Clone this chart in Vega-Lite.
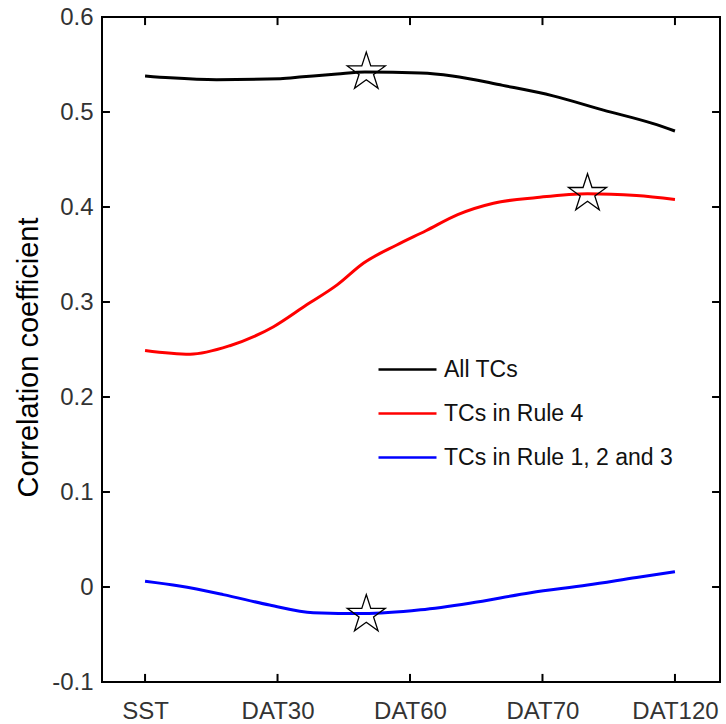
{
  "$schema": "https://vega.github.io/schema/vega-lite/v6.json",
  "width": 618,
  "height": 665,
  "autosize": {"type": "none"},
  "padding": {"left": 102, "top": 17, "right": 6, "bottom": 42},
  "background": "white",
  "config": {
    "view": {"stroke": "black", "strokeWidth": 2},
    "axis": {"grid": false, "domain": false, "ticks": false,
             "labelFont": "Liberation Sans", "labelFontSize": 24, "labelColor": "#333333",
             "titleFont": "Liberation Sans"},
    "legend": {"labelFont": "Liberation Sans", "labelFontSize": 23, "labelColor": "#111111"}
  },
  "datasets": {
    "lines": [
      {"step": 0, "r": 0.538, "group": "All TCs"},
      {"step": 0.19, "r": 0.536, "group": "All TCs"},
      {"step": 0.54, "r": 0.534, "group": "All TCs"},
      {"step": 1.02, "r": 0.535, "group": "All TCs"},
      {"step": 1.19, "r": 0.537, "group": "All TCs"},
      {"step": 1.45, "r": 0.540, "group": "All TCs"},
      {"step": 1.66, "r": 0.542, "group": "All TCs"},
      {"step": 2.08, "r": 0.541, "group": "All TCs"},
      {"step": 2.32, "r": 0.538, "group": "All TCs"},
      {"step": 2.70, "r": 0.528, "group": "All TCs"},
      {"step": 3.08, "r": 0.517, "group": "All TCs"},
      {"step": 3.46, "r": 0.502, "group": "All TCs"},
      {"step": 3.83, "r": 0.488, "group": "All TCs"},
      {"step": 4.0, "r": 0.480, "group": "All TCs"},
      {"step": 0, "r": 0.249, "group": "TCs in Rule 4"},
      {"step": 0.34, "r": 0.245, "group": "TCs in Rule 4"},
      {"step": 0.64, "r": 0.254, "group": "TCs in Rule 4"},
      {"step": 0.97, "r": 0.274, "group": "TCs in Rule 4"},
      {"step": 1.22, "r": 0.297, "group": "TCs in Rule 4"},
      {"step": 1.45, "r": 0.318, "group": "TCs in Rule 4"},
      {"step": 1.65, "r": 0.341, "group": "TCs in Rule 4"},
      {"step": 1.90, "r": 0.360, "group": "TCs in Rule 4"},
      {"step": 2.12, "r": 0.375, "group": "TCs in Rule 4"},
      {"step": 2.36, "r": 0.392, "group": "TCs in Rule 4"},
      {"step": 2.63, "r": 0.404, "group": "TCs in Rule 4"},
      {"step": 2.96, "r": 0.410, "group": "TCs in Rule 4"},
      {"step": 3.34, "r": 0.414, "group": "TCs in Rule 4"},
      {"step": 3.71, "r": 0.412, "group": "TCs in Rule 4"},
      {"step": 4.0, "r": 0.408, "group": "TCs in Rule 4"},
      {"step": 0, "r": 0.006, "group": "TCs in Rule 1, 2 and 3"},
      {"step": 0.26, "r": 0.001, "group": "TCs in Rule 1, 2 and 3"},
      {"step": 0.59, "r": -0.008, "group": "TCs in Rule 1, 2 and 3"},
      {"step": 0.94, "r": -0.019, "group": "TCs in Rule 1, 2 and 3"},
      {"step": 1.27, "r": -0.027, "group": "TCs in Rule 1, 2 and 3"},
      {"step": 1.65, "r": -0.028, "group": "TCs in Rule 1, 2 and 3"},
      {"step": 2.08, "r": -0.024, "group": "TCs in Rule 1, 2 and 3"},
      {"step": 2.45, "r": -0.017, "group": "TCs in Rule 1, 2 and 3"},
      {"step": 2.91, "r": -0.006, "group": "TCs in Rule 1, 2 and 3"},
      {"step": 3.34, "r": 0.002, "group": "TCs in Rule 1, 2 and 3"},
      {"step": 3.71, "r": 0.010, "group": "TCs in Rule 1, 2 and 3"},
      {"step": 4.0, "r": 0.016, "group": "TCs in Rule 1, 2 and 3"}
    ],
    "stars": [
      {"step": 1.67, "r": 0.542},
      {"step": 3.34, "r": 0.414},
      {"step": 1.67, "r": -0.029}
    ],
    "xticks": [{"step": 0}, {"step": 1}, {"step": 2}, {"step": 3}, {"step": 4}],
    "yticks": [{"r": 0}, {"r": 0.1}, {"r": 0.2}, {"r": 0.3}, {"r": 0.4}, {"r": 0.5}]
  },
  "layer": [
    {
      "data": {"name": "lines"},
      "mark": {"type": "line", "strokeWidth": 3, "interpolate": "monotone"},
      "encoding": {
        "x": {"field": "step", "type": "quantitative",
              "scale": {"domain": [-0.325, 4.34], "nice": false, "zero": false},
              "axis": {"values": [0, 1, 2, 3, 4], "title": null, "labelPadding": 17,
                       "labelExpr": "['SST','DAT30','DAT60','DAT70','DAT120'][datum.value]"}},
        "y": {"field": "r", "type": "quantitative",
              "scale": {"domain": [-0.1, 0.6], "nice": false, "zero": false},
              "axis": {"values": [-0.1, 0, 0.1, 0.2, 0.3, 0.4, 0.5, 0.6], "labelPadding": 9,
                       "labelExpr": "datum.value == 0 ? '0' : replace(format(datum.value, '.1f'), '\u2212', '-')",
                       "title": "Correlation coefficient", "titleFontSize": 29, "titleFontWeight": "normal",
                       "titleColor": "black", "titleX": -65, "titleY": 340, "titleAngle": -90,
                       "titleAlign": "center", "titleBaseline": "alphabetic"}},
        "color": {"field": "group", "type": "nominal",
                  "scale": {"domain": ["All TCs", "TCs in Rule 4", "TCs in Rule 1, 2 and 3"],
                            "range": ["#000000", "#ff0000", "#0000ff"]},
                  "legend": {"title": null, "orient": "none", "legendX": 275, "legendY": 322,
                             "symbolType": "stroke", "symbolSize": 3364, "symbolStrokeWidth": 2.5,
                             "rowPadding": 1, "labelOffset": 6, "labelLimit": 400}}
      }
    },
    {
      "data": {"name": "xticks"},
      "mark": {"type": "rule", "color": "black", "strokeWidth": 2},
      "encoding": {
        "x": {"field": "step", "type": "quantitative", "axis": null},
        "y": {"datum": -0.1, "type": "quantitative", "axis": null},
        "y2": {"datum": -0.0915}
      }
    },
    {
      "data": {"name": "xticks"},
      "mark": {"type": "rule", "color": "black", "strokeWidth": 2},
      "encoding": {
        "x": {"field": "step", "type": "quantitative", "axis": null},
        "y": {"datum": 0.6, "type": "quantitative", "axis": null},
        "y2": {"datum": 0.5915}
      }
    },
    {
      "data": {"name": "yticks"},
      "mark": {"type": "rule", "color": "black", "strokeWidth": 2},
      "encoding": {
        "y": {"field": "r", "type": "quantitative", "axis": null},
        "x": {"datum": -0.325, "type": "quantitative", "axis": null},
        "x2": {"datum": -0.265}
      }
    },
    {
      "data": {"name": "yticks"},
      "mark": {"type": "rule", "color": "black", "strokeWidth": 2},
      "encoding": {
        "y": {"field": "r", "type": "quantitative", "axis": null},
        "x": {"datum": 4.34, "type": "quantitative", "axis": null},
        "x2": {"datum": 4.28}
      }
    },
    {
      "data": {"name": "stars"},
      "mark": {"type": "point", "shape": "M0,-1L0.2245,-0.309L0.951,-0.309L0.363,0.118L0.588,0.809L0,0.382L-0.588,0.809L-0.363,0.118L-0.951,-0.309L-0.2245,-0.309Z",
               "size": 1600, "filled": false, "stroke": "black", "strokeWidth": 1.3, "opacity": 1},
      "encoding": {
        "x": {"field": "step", "type": "quantitative", "axis": null},
        "y": {"field": "r", "type": "quantitative", "axis": null}
      }
    }
  ],
  "resolve": {"axis": {"x": "independent", "y": "independent"}}
}
